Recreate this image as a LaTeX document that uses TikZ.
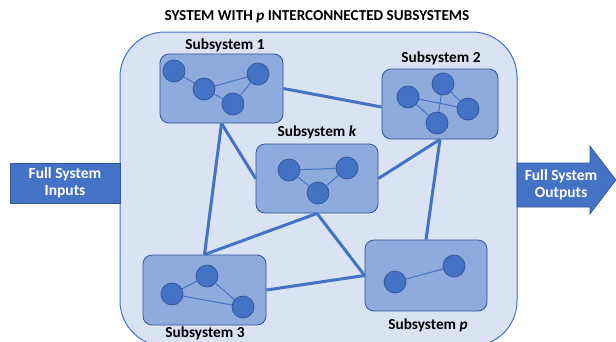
\documentclass[tikz,border=0pt]{standalone}
\usepackage{fontspec}
\setmainfont{Carlito}
\usetikzlibrary{positioning}
\definecolor{paneBlue}{HTML}{DAE3F3}
\definecolor{boxBlue}{HTML}{8FAADC}
\definecolor{mainBlue}{HTML}{4472C4}
\definecolor{edgeBlue}{HTML}{2F5597}
\tikzset{
  system/.style={draw=mainBlue, fill=paneBlue, line width=1pt},
  subsys/.style={draw=edgeBlue, fill=boxBlue, line width=0.8pt, rounded corners=9pt,
                 inner sep=0pt},
  agent/.style={circle, draw=edgeBlue, fill=mainBlue, line width=0.7pt,
                minimum size=22pt, inner sep=0pt},
  inner/.style={draw=mainBlue, line width=1pt},
  link/.style={draw=mainBlue, line width=3pt},
  lbl/.style={font=\bfseries\fontsize{15.3}{17}\selectfont, text=black},
  iolbl/.style={font=\bfseries\fontsize{15.5}{17.5}\selectfont, text=white, align=center,
                inner sep=0pt},
}
\begin{document}
\begin{tikzpicture}[x=1pt, y=-1pt]
\useasboundingbox (0,0) rectangle (616,341);
\begin{scope}
\clip (0,0) rectangle (616,341);
% the enclosing system
\path[system, rounded corners=45pt] (120,32) rectangle (517,346);
\end{scope}

% input block and output arrow
\node[draw=edgeBlue, fill=mainBlue, line width=0.6pt, minimum width=110pt,
      minimum height=40pt, inner sep=0pt] (inputs) at (65,183) {};
\node[iolbl] (intext) at (65,183) {Full System\\Inputs};
\path[fill=mainBlue, draw=edgeBlue, line width=0.6pt]
  (517,163) -- (590,163) -- (590,146) -- (616,180) -- (590,214) -- (590,207) -- (517,207) -- cycle;
\node[iolbl] (outputs) at (561,185) {Full System\\Outputs};

% title
\node[lbl, font=\bfseries\fontsize{15.2}{17}\selectfont] (title) at (317,17)
  {SYSTEM WITH \textit{p} INTERCONNECTED SUBSYSTEMS};

% subsystem boxes
\node[subsys, minimum width=123pt, minimum height=69pt] (s1) at (221.5,88.5) {};
\node[subsys, minimum width=116pt, minimum height=70pt] (s2) at (440,104) {};
\node[subsys, minimum width=122pt, minimum height=69pt] (sk) at (317,178.5) {};
\node[subsys, minimum width=123pt, minimum height=70pt] (s3) at (204.5,290) {};
\node[subsys, minimum width=122pt, minimum height=71pt] (sp) at (426,275.5) {};

% subsystem labels
\node[lbl] (l1) at (225,45) {Subsystem 1};
\node[lbl] (l2) at (441,58) {Subsystem 2};
\node[lbl] (lk) at (317,132) {Subsystem \textit{k}};
\node[lbl] (l3) at (205,333) {Subsystem 3};
\node[lbl] (lp) at (428,325) {Subsystem \textit{p}};

% links between subsystems
\draw[link] (s1.east) -- ([yshift=-3pt]s2.west);
\draw[link] (s1.south) -- (s3.north);
\draw[link] (s1.south) -- (sk.west);
\draw[link] (s3.north) -- (sk.south);
\draw[link] (sk.south) -- (sp.west);
\draw[link] (s3.east) -- (sp.west);
\draw[link] (sk.east) -- (s2.south);
\draw[link] (s2.south) -- (sp.north);

% agents inside subsystem 1
\node[agent] (a11) at (174,71) {};
\node[agent] (a12) at (204,89) {};
\node[agent] (a13) at (258,74) {};
\node[agent] (a14) at (233,104) {};
\draw[inner] (a11) -- (a12);
\draw[inner] (a12) -- (a13);
\draw[inner] (a12) -- (a14);
\draw[inner] (a14) -- (a13);

% agents inside subsystem 2
\node[agent] (a21) at (408,97) {};
\node[agent] (a22) at (443,84) {};
\node[agent] (a23) at (468,109) {};
\node[agent] (a24) at (437,123) {};
\draw[inner] (a21) -- (a24);
\draw[inner] (a21) -- (a23);
\draw[inner] (a22) -- (a23);
\draw[inner] (a22) -- (a24);

% agents inside subsystem k
\node[agent] (ak1) at (289,170) {};
\node[agent] (ak2) at (347,168) {};
\node[agent] (ak3) at (318,193) {};
\draw[inner] (ak1) -- (ak2);
\draw[inner] (ak1) -- (ak3);
\draw[inner] (ak3) -- (ak2);

% agents inside subsystem 3
\node[agent] (a31) at (172,294) {};
\node[agent] (a32) at (207,276) {};
\node[agent] (a33) at (243,307) {};
\draw[inner] (a31) -- (a32);
\draw[inner] (a31) -- (a33);
\draw[inner] (a32) -- (a33);

% agents inside subsystem p
\node[agent] (ap1) at (395,282) {};
\node[agent] (ap2) at (454,266) {};
\draw[inner] (ap1) -- (ap2);
\end{tikzpicture}
\end{document}
